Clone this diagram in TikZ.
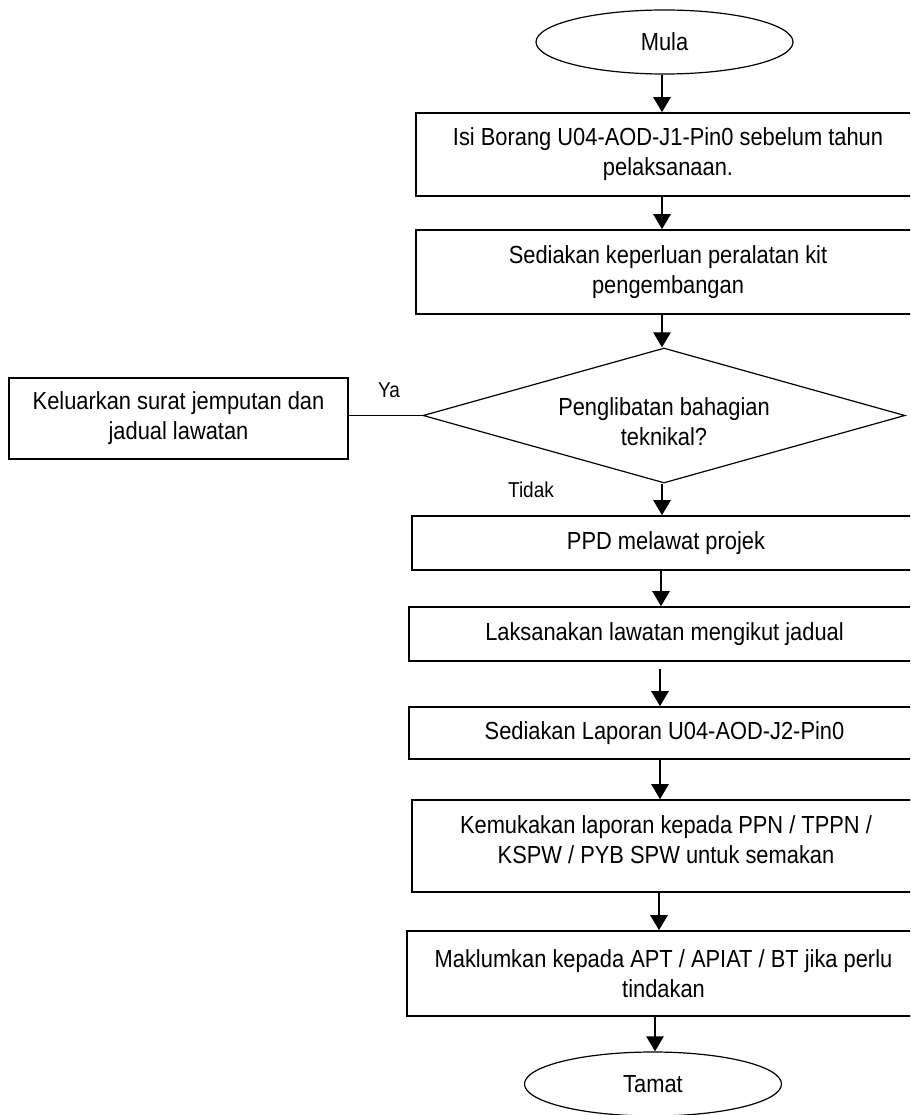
\documentclass[tikz,border=0pt]{standalone}
\usepackage{fontspec}
\setmainfont{Liberation Sans}[FakeStretch=0.885]
\usetikzlibrary{shapes.geometric,arrows.meta}

\begin{document}
\begin{tikzpicture}[x=1pt,y=-1pt,
        font=\fontsize{24.7pt}{30pt}\selectfont,
        box/.style={draw,line width=1.6pt,rectangle,align=center,inner sep=0pt},
        ends/.style={draw,line width=1.2pt,ellipse,inner sep=0pt,minimum width=257pt,minimum height=64pt},
        arr/.style={line width=2.5pt,-{Triangle[length=15pt,width=17pt]}},
        tag/.style={font=\fontsize{21.5pt}{24pt}\selectfont}]
            \useasboundingbox (0,0) rectangle (910,1115);
            \clip (0,0) rectangle (910,1115);
            % start and end
            \node[ends] (mula) at (664.5,42) {Mula};
            \node[ends] (tamat) at (653,1084) {Tamat};
            % main column (boxes run past the right edge)
            \node[box,minimum width=504pt,minimum height=83pt] (isi) at (668,154.5)
                {Isi Borang U04-AOD-J1-Pin0 sebelum tahun\\pelaksanaan.};
            \node[box,minimum width=504pt,minimum height=84pt] (kit) at (668,272)
                {Sediakan keperluan peralatan kit\\pengembangan};
            \node[draw,line width=1.2pt,diamond,aspect=3.57,inner sep=0pt,align=center,
                text height=61pt,minimum width=482pt,minimum height=135pt] (teknikal) at (664,415.5)
                {Penglibatan bahagian\\teknikal?};
            \node[box,minimum width=508pt,minimum height=54pt] (ppd) at (666,543)
                {PPD melawat projek};
            \node[box,minimum width=511pt,minimum height=54pt] (lawat) at (664.5,634)
                {Laksanakan lawatan mengikut jadual};
            \node[box,minimum width=511pt,minimum height=52pt] (laporan) at (664.5,733)
                {Sediakan Laporan U04-AOD-J2-Pin0};
            \node[box,text depth=12pt,minimum width=508pt,minimum height=92pt] (semak) at (666,846)
                {Kemukakan laporan kepada PPN / TPPN /\\KSPW / PYB SPW untuk semakan};
            \node[box,minimum width=513pt,minimum height=85pt] (maklum) at (663.5,973.5)
                {Maklumkan kepada APT / APIAT / BT jika perlu\\tindakan};
            % Ya branch
            \node[box,minimum width=339pt,minimum height=81pt] (keluar) at (178.5,418.5)
                {Keluarkan surat jemputan dan\\jadual lawatan};
            \node[tag] (ya) at (389,390) {Ya};
            \node[tag] (tidak) at (531,490) {Tidak};
            % connectors
            \draw[arr] (mula.south -| 662,0) -- (isi.north -| 662,0);
            \draw[arr] (isi.south -| 662,0) -- (kit.north -| 662,0);
            \draw[arr] (kit.south -| 662,0) -- (teknikal.north -| 662,0);
            \draw[line width=1.6pt] (teknikal.west) -- (teknikal.west -| keluar.east);
            \draw[arr] (teknikal.south -| 662,0) -- (ppd.north -| 662,0);
            \draw[arr] (ppd.south -| 661,0) -- (lawat.north -| 661,0);
            \draw[arr,shorten <=7pt] (lawat.south -| 660,0) -- (laporan.north -| 660,0);
            \draw[arr] (laporan.south -| 660,0) -- (semak.north -| 660,0);
            \draw[arr] (semak.south -| 659,0) -- (maklum.north -| 659,0);
            \draw[arr] (maklum.south -| 655,0) -- (tamat.north -| 655,0);
        \end{tikzpicture}
\end{document}
